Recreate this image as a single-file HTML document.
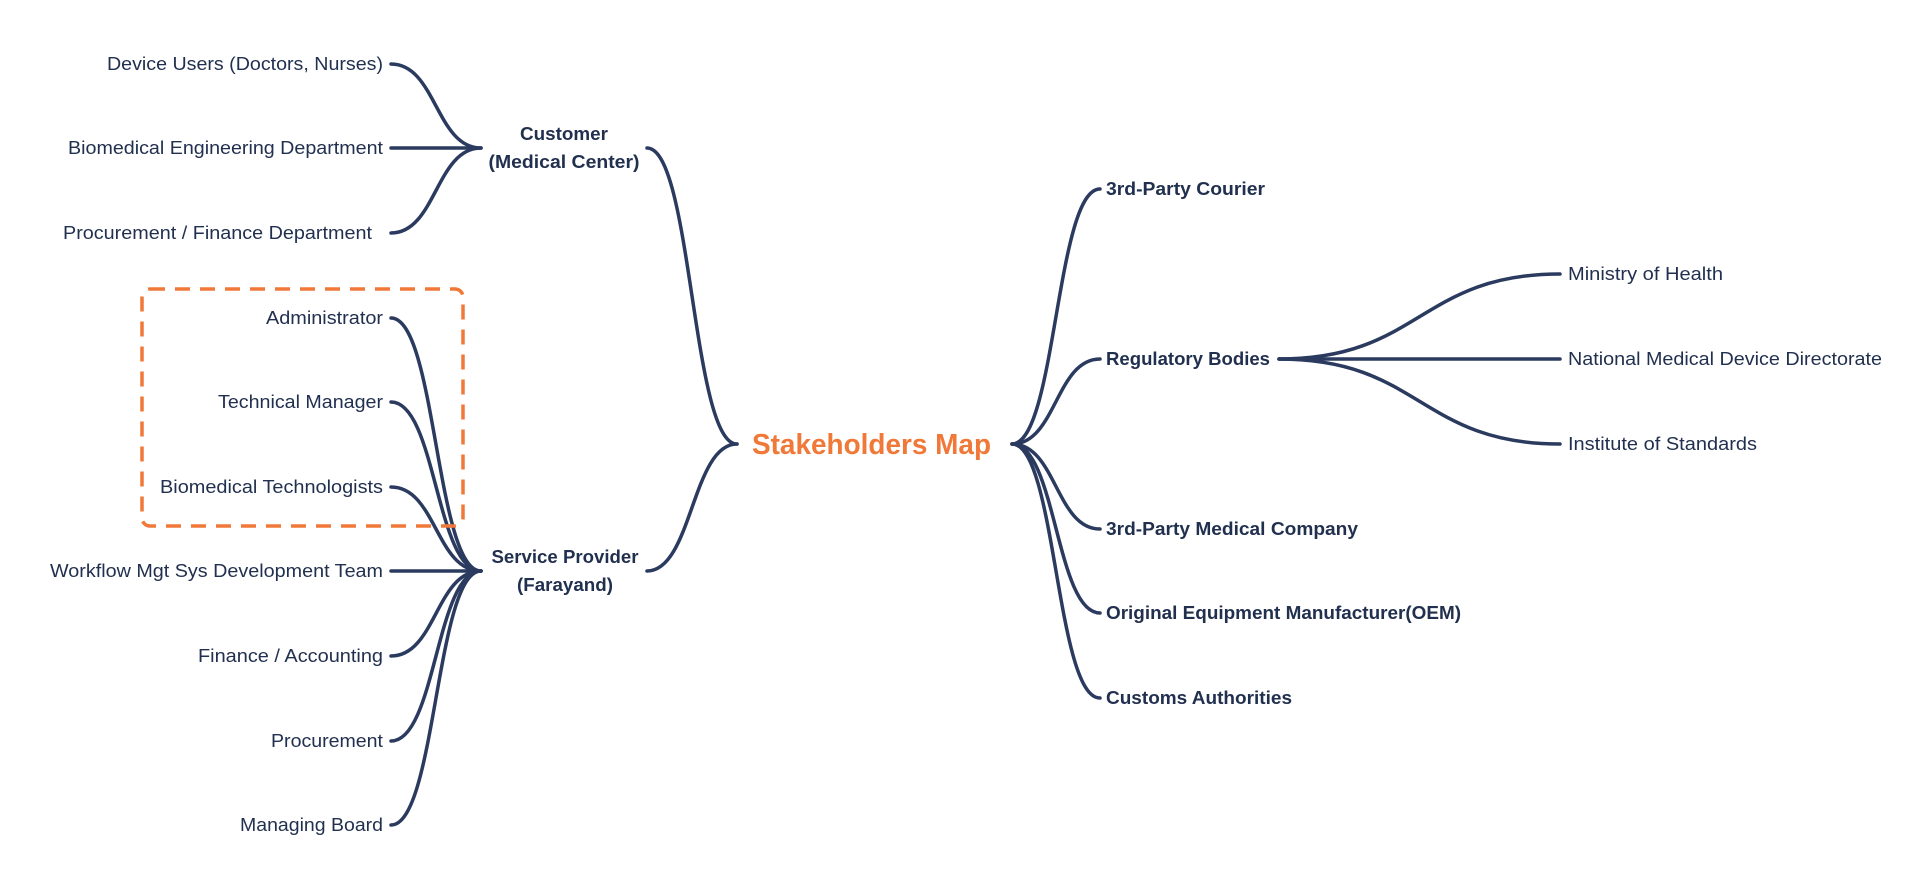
<!DOCTYPE html>
<html><head><meta charset="utf-8"><style>
html,body{margin:0;padding:0;background:#fff;}
svg{display:block;}
text{font-family:"Liberation Sans",Arial,sans-serif;fill:#22304f;font-size:18px;}
.b{font-weight:bold;}
</style></head><body>
<svg width="1920" height="880" viewBox="0 0 1920 880" xmlns="http://www.w3.org/2000/svg">
<g fill="none" stroke="#2b3a5f" stroke-width="3.5" stroke-linecap="round">
<!-- customer children -->
<path d="M391,64 C436,64 436,148 481,148"/>
<path d="M391,148 L481,148"/>
<path d="M391,233 C436,233 436,148 481,148"/>
<!-- service provider children -->
<path d="M391,318 C436,318 436,571 481,571"/>
<path d="M391,402 C436,402 436,571 481,571"/>
<path d="M391,487 C436,487 436,571 481,571"/>
<path d="M391,571 L481,571"/>
<path d="M391,656 C436,656 436,571 481,571"/>
<path d="M391,741 C436,741 436,571 481,571"/>
<path d="M391,825 C436,825 436,571 481,571"/>
<!-- root to left -->
<path d="M737,444 C692,444 692,148 647,148"/>
<path d="M737,444 C692,444 692,571 647,571"/>
<!-- root to right -->
<path d="M1012,444 C1056,444 1056,189 1100,189"/>
<path d="M1012,444 C1056,444 1056,359 1100,359"/>
<path d="M1012,444 C1056,444 1056,529 1100,529"/>
<path d="M1012,444 C1056,444 1056,613 1100,613"/>
<path d="M1012,444 C1056,444 1056,698 1100,698"/>
<!-- regulatory children -->
<path d="M1279,359 C1420,359 1420,274 1560,274"/>
<path d="M1279,359 L1560,359"/>
<path d="M1279,359 C1420,359 1420,444 1560,444"/>
</g>
<rect x="142" y="289" width="321" height="237" rx="8" fill="none" stroke="#f07838" stroke-width="3.5" stroke-dasharray="15 10"/>

<g text-anchor="end">
<text x="383" y="70" textLength="276" lengthAdjust="spacingAndGlyphs">Device Users (Doctors, Nurses)</text>
<text x="383" y="154" textLength="315" lengthAdjust="spacingAndGlyphs">Biomedical Engineering Department</text>
<text x="372" y="239" textLength="309" lengthAdjust="spacingAndGlyphs">Procurement / Finance Department</text>
<text x="383" y="324" textLength="117" lengthAdjust="spacingAndGlyphs">Administrator</text>
<text x="383" y="408" textLength="165" lengthAdjust="spacingAndGlyphs">Technical Manager</text>
<text x="383" y="493" textLength="223" lengthAdjust="spacingAndGlyphs">Biomedical Technologists</text>
<text x="383" y="577" textLength="333" lengthAdjust="spacingAndGlyphs">Workflow Mgt Sys Development Team</text>
<text x="383" y="662" textLength="185" lengthAdjust="spacingAndGlyphs">Finance / Accounting</text>
<text x="383" y="747" textLength="112" lengthAdjust="spacingAndGlyphs">Procurement</text>
<text x="383" y="831" textLength="143" lengthAdjust="spacingAndGlyphs">Managing Board</text>
</g>
<g text-anchor="middle" class="b">
<text class="b" x="564" y="140" textLength="88" lengthAdjust="spacingAndGlyphs">Customer</text>
<text class="b" x="564" y="168" textLength="151" lengthAdjust="spacingAndGlyphs">(Medical Center)</text>
<text class="b" x="565" y="563" textLength="147" lengthAdjust="spacingAndGlyphs">Service Provider</text>
<text class="b" x="565" y="591" textLength="96" lengthAdjust="spacingAndGlyphs">(Farayand)</text>
</g>
<text class="b" x="752" y="454" style="font-size:29px;fill:#f07838" textLength="239" lengthAdjust="spacingAndGlyphs">Stakeholders Map</text>
<text class="b" x="1106" y="195" textLength="159" lengthAdjust="spacingAndGlyphs">3rd-Party Courier</text>
<text class="b" x="1106" y="365" textLength="164" lengthAdjust="spacingAndGlyphs">Regulatory Bodies</text>
<text class="b" x="1106" y="535" textLength="252" lengthAdjust="spacingAndGlyphs">3rd-Party Medical Company</text>
<text class="b" x="1106" y="619" textLength="355" lengthAdjust="spacingAndGlyphs">Original Equipment Manufacturer(OEM)</text>
<text class="b" x="1106" y="704" textLength="186" lengthAdjust="spacingAndGlyphs">Customs Authorities</text>
<text x="1568" y="280" textLength="155" lengthAdjust="spacingAndGlyphs">Ministry of Health</text>
<text x="1568" y="365" textLength="314" lengthAdjust="spacingAndGlyphs">National Medical Device Directorate</text>
<text x="1568" y="450" textLength="189" lengthAdjust="spacingAndGlyphs">Institute of Standards</text>
</svg>
</body></html>
